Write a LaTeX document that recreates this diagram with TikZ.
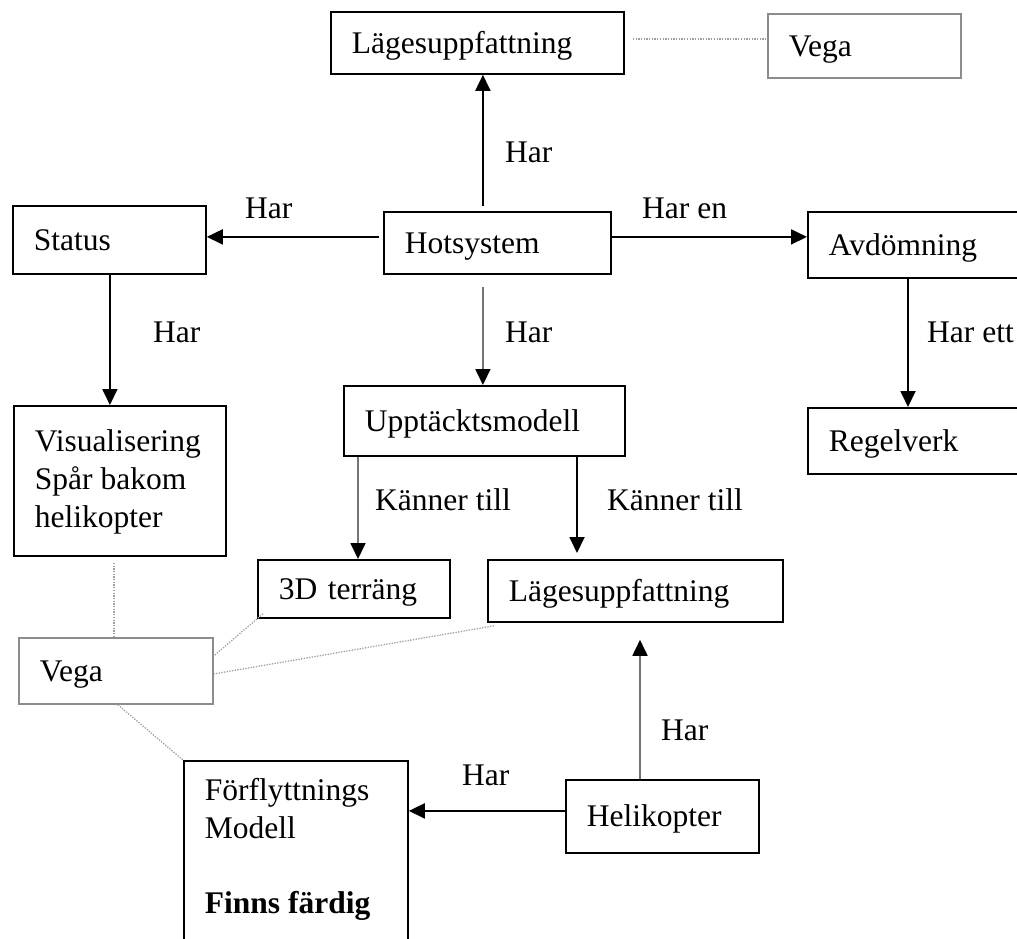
\documentclass[tikz,border=0pt]{standalone}
\usepackage{fontspec}
\setmainfont{Liberation Serif}
\usetikzlibrary{arrows.meta,calc}

\newcommand{\diagfont}{\fontsize{31.5}{38}\selectfont}

\begin{document}
\begin{tikzpicture}[x=1pt,y=-1pt,
  box/.style={draw=black, line width=1.8pt, anchor=north west, inner xsep=21pt,
              inner ysep=0pt, align=left, font=\diagfont},
  oneline/.style={text height=21pt, text depth=0pt},
  graybox/.style={box, draw=black!45},
  lbl/.style={anchor=west, inner sep=0pt, font=\diagfont},
  arr/.style={line width=1.8pt, draw=black, -{Triangle[length=16pt,width=15pt,color=black]}},
  arrg/.style={arr, draw=black!55},
  link/.style={line width=1.3pt, draw=black!38, dash pattern=on 1.3pt off 1.4pt}
]
\useasboundingbox (0,0) rectangle (1017,939);
\clip (0,0) rectangle (1017,939);

% boxes
\node[box, oneline, minimum width=293pt, minimum height=62pt, text width=251pt] (lag1) at (330,11) {Lägesuppfattning};
\node[graybox, oneline, minimum width=193pt, minimum height=64pt, text width=151pt] (vega1) at (767,13) {Vega};
\node[box, oneline, minimum width=193pt, minimum height=68pt, text width=151pt] (stat) at (12,205) {Status};
\node[box, oneline, minimum width=227pt, minimum height=62pt, text width=185pt] (hot) at (383,211) {Hotsystem};
\node[box, oneline, minimum width=240pt, minimum height=66pt, text width=198pt] (avd) at (807,211) {Avdömning};
\node[box, oneline, minimum width=240pt, minimum height=66pt, text width=198pt] (reg) at (807,407) {Regelverk};
\node[box, oneline, minimum width=281pt, minimum height=70pt, text width=239pt] (upp) at (343,385) {Upptäcktsmodell};
\node[box, align=none] (vis) at (13,405)
  {\parbox[c][150pt][t]{170pt}{\rule{0pt}{46pt}Visualisering\\Spår bakom\\helikopter}};
\node[box, oneline, minimum width=192pt, minimum height=58pt, text width=150pt] (ter) at (257,559) {3D terräng};
\node[box, oneline, minimum width=295pt, minimum height=62pt, text width=253pt] (lag2) at (487,559) {Lägesuppfattning};
\node[graybox, oneline, minimum width=194pt, minimum height=66pt, text width=152pt] (vega2) at (18,637) {Vega};
\node[box, oneline, minimum width=193pt, minimum height=73pt, text width=151pt] (heli) at (565,779) {Helikopter};
\node[box, align=none] (fm) at (183,760)
  {\parbox[c][210pt][t]{182pt}{\rule{0pt}{40pt}Förflyttnings\\Modell\\[37pt]\textbf{Finns färdig}}};

% arrows
\draw[arr, shorten <=5pt] ([xshift=-14.5pt]hot.north) -- ([xshift=-14.5pt]hot.north |- lag1.south);
\draw[arr, shorten <=4pt] ([yshift=6pt]hot.west) -- ([yshift=6pt]hot.west -| stat.east);
\draw[arr] ([yshift=6pt]hot.east) -- ([yshift=6pt]hot.east -| avd.west);
\draw[arrg, shorten <=12pt] ([xshift=-14.5pt]hot.south) -- ([xshift=-14.5pt]hot.south |- upp.north);
\draw[arr] ([xshift=-10pt]vis.north |- stat.south) -- ([xshift=-10pt]vis.north);
\draw[arr] ([xshift=101pt]avd.south west) -- ([xshift=101pt]avd.south west |- reg.north);
\draw[arrg] ([xshift=15pt]upp.south west) -- ([xshift=15pt]upp.south west |- ter.north);
\draw[arr, shorten >=6pt] ([xshift=234pt]upp.south west) -- ([xshift=234pt]upp.south west |- lag2.north);
\draw[arrg, shorten >=17pt] ([xshift=75pt]heli.north west) -- ([xshift=75pt]heli.north west |- lag2.south);
\draw[arr] ([yshift=5.5pt]heli.west) -- ([yshift=5.5pt]heli.west -| fm.east);

% dotted links to Vega
\draw[link] ([xshift=8pt,yshift=4pt]lag1.east) -- ([yshift=4pt]lag1.east -| vega1.west);
\draw[link, shorten <=6pt] ([xshift=-6pt]vis.south) -- ([xshift=-6pt]vis.south |- vega2.north);
\draw[link] ([shift={(6pt,5pt)}]ter.south west) -- ([yshift=15pt]vega2.east);
\draw[link] ([shift={(7pt,-3pt)}]lag2.south west) -- ([yshift=-3pt]vega2.east);
\draw[link] ([xshift=2pt]vega2.south) -- (fm.north west);

% connector labels
\node[lbl] (l1) at (505,152) {Har};
\node[lbl] (l2) at (245,208) {Har};
\node[lbl] (l3) at (642,208) {Har en};
\node[lbl] (l4) at (153,332) {Har};
\node[lbl] (l5) at (505,332) {Har};
\node[lbl] (l6) at (927,332) {Har ett};
\node[lbl] (l7) at (375,500) {Känner till};
\node[lbl] (l8) at (607,500) {Känner till};
\node[lbl] (l9) at (661,730) {Har};
\node[lbl] (l10) at (462,775) {Har};
\end{tikzpicture}
\end{document}
